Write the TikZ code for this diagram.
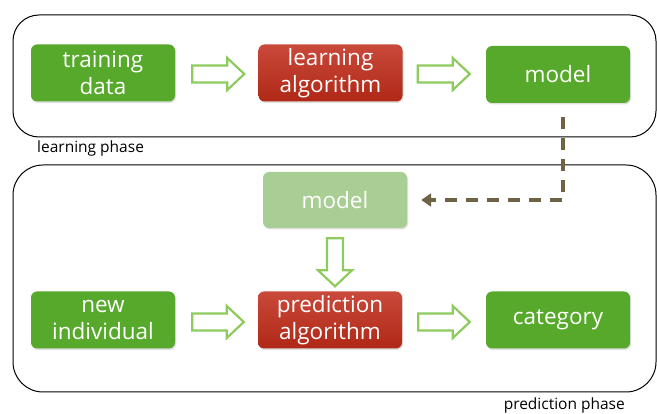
\documentclass[tikz,border=0pt]{standalone}
\usepackage{fontspec}
\setmainfont{Open Sans}
\usetikzlibrary{shadows,calc,arrows.meta}
\definecolor{boxgreen}{HTML}{57A92B}
\definecolor{lightgreen}{HTML}{A9CE93}
\definecolor{redtop}{HTML}{C9493A}
\definecolor{redbot}{HTML}{B02816}
\definecolor{arrowgreen}{HTML}{8ECB5E}
\definecolor{olive}{HTML}{6E6445}
\tikzset{
  phase/.style={draw=black, line width=1pt, rounded corners=26pt},
  stepbox/.style={rounded corners=6pt, minimum width=144pt, minimum height=57pt,
    text=white, font=\fontsize{22.5}{27}\selectfont, align=center, inner sep=0pt,
    drop shadow={opacity=0.25, shadow xshift=1pt, shadow yshift=-1.5pt}},
  greenbox/.style={stepbox, fill=boxgreen},
  paleboxstyle/.style={stepbox, fill=lightgreen, drop shadow={opacity=0}},
  redbox/.style={stepbox, top color=redtop, bottom color=redbot},
  hollow/.style={draw=arrowgreen, fill=white, line width=2.2pt, line join=miter},
  dasharrow/.style={draw=olive, line width=3.5pt, dash pattern=on 12pt off 9pt,
    -{Triangle[length=10pt,width=13pt]}},
  phaselabel/.style={font=\fontsize{15.5}{18}\selectfont, text=black, inner sep=0pt}
}
% hollow arrow pointing right, from #1 to #2 (same height)
\newcommand{\hollowright}[2]{%
  \draw[hollow] let \p1=(#1), \p2=(#2) in
    (\x1,\y1+8.5pt) -- (\x2-17pt,\y1+8.5pt) -- (\x2-17pt,\y1+16pt) -- (\x2,\y1)
    -- (\x2-17pt,\y1-16pt) -- (\x2-17pt,\y1-8.5pt) -- (\x1,\y1-8.5pt) -- cycle;}
% hollow arrow pointing down, from #1 to #2
\newcommand{\hollowdown}[2]{%
  \draw[hollow] let \p1=(#1), \p2=(#2) in
    (\x1-8pt,\y1) -- (\x1-8pt,\y2+16pt) -- (\x1-17pt,\y2+16pt) -- (\x1,\y2)
    -- (\x1+17pt,\y2+16pt) -- (\x1+8pt,\y2+16pt) -- (\x1+8pt,\y1) -- cycle;}
\begin{document}
\begin{tikzpicture}[x=1pt,y=-1pt]
\useasboundingbox (0,0) rectangle (657,414);
\draw[phase] (13,15) rectangle (656,137);
\draw[phase, rounded corners=30pt] (13,165) rectangle (656,392);
\node[phaselabel, anchor=west] (lp) at (37,148) {learning phase};
\node[phaselabel, anchor=east] (pp) at (625,405) {prediction phase};

\node[greenbox] (td) at (103,73) {training\\data};
\node[redbox] (la) at (330.5,73) {learning\\algorithm};
\node[greenbox] (tm) at (558,74.5) {model};

\node[paleboxstyle, minimum height=56pt] (bm) at (335,200) {model};
\node[greenbox] (ni) at (103,320) {new\\individual};
\node[redbox] (pa) at (330,320) {prediction\\algorithm};
\node[greenbox] (ca) at (558,320) {category};

\coordinate (s1) at ([xshift=17pt,yshift=-1pt]td.east);
\coordinate (e1) at ([xshift=-14pt,yshift=-1pt]la.west);
\coordinate (s2) at ([xshift=15pt,yshift=-1pt]la.east);
\coordinate (e2) at ([xshift=-16pt,yshift=-1pt]tm.west);
\coordinate (s3) at ([xshift=17pt,yshift=-2pt]ni.east);
\coordinate (e3) at ([xshift=-14pt,yshift=-2pt]pa.west);
\coordinate (s4) at ([xshift=16pt,yshift=-2pt]pa.east);
\coordinate (e4) at ([xshift=-16pt,yshift=-2pt]ca.west);
\coordinate (s5) at ([yshift=-10pt]bm.south);
\coordinate (e5) at ([xshift=5pt,yshift=5pt]pa.north);
\hollowright{s1}{e1}
\hollowright{s2}{e2}
\hollowright{s3}{e3}
\hollowright{s4}{e4}
\hollowdown{s5}{e5}

\draw[dasharrow] ([xshift=5pt,yshift=-14pt]tm.south) |- ([xshift=14pt]bm.east);
\end{tikzpicture}
\end{document}
